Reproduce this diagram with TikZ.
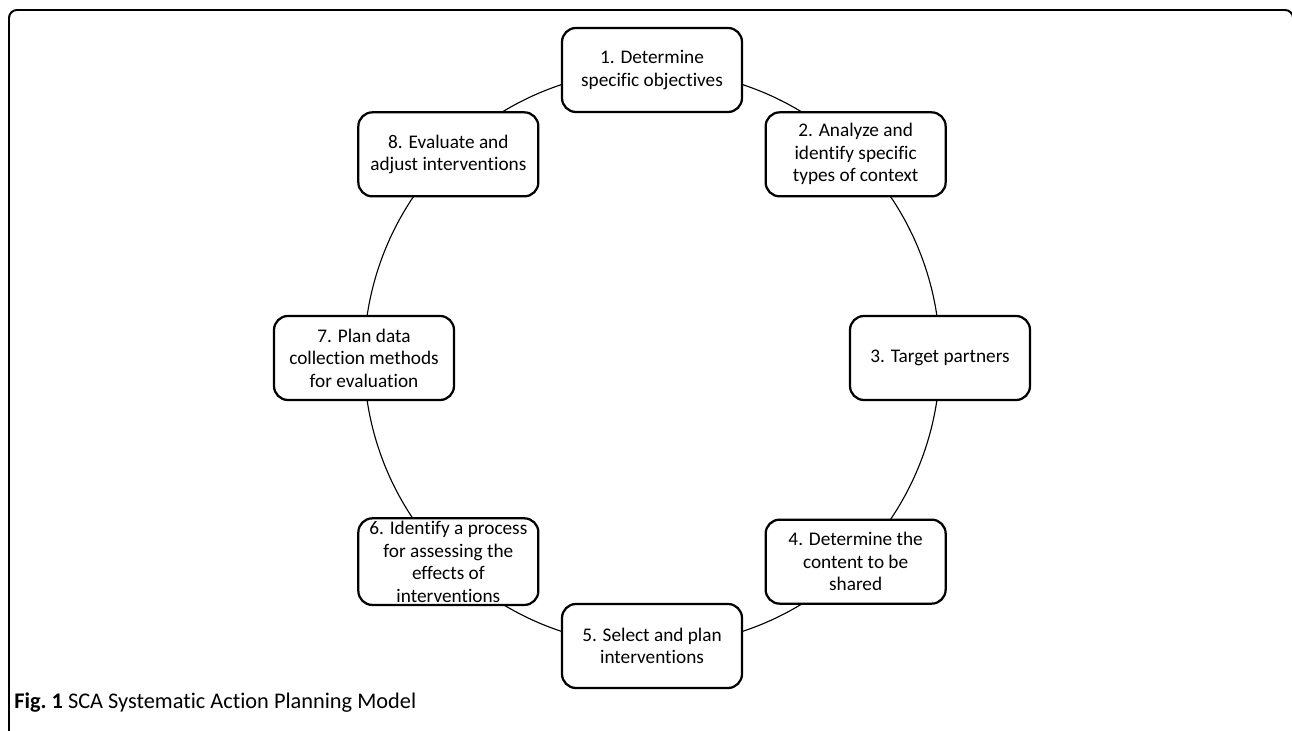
\documentclass[tikz,border=0pt]{standalone}
\usepackage{fontspec}
\setmainfont{Carlito}[Ligatures={NoCommon,NoContextual}, RawFeature={-liga,-clig,-dlig}]
\usetikzlibrary{backgrounds}
\begin{document}
\begin{tikzpicture}[font=\fontsize{13.7}{16}\selectfont,
  stepbox/.style={draw, line width=1.6pt, rounded corners=0.35cm, fill=white,
    minimum width=4.5cm, minimum height=2.1cm, align=center, inner sep=2pt}]
\useasboundingbox (0,0) rectangle (32.3,18.275);
\clip (0,0) rectangle (32.3,18.275);
\draw[line width=1.4pt, rounded corners=0.2cm] (0.225,0) -- (0.225,18.025) -- (32.325,18.025) -- (32.325,0);
\coordinate (c) at (16.3,9.325);
\foreach \i/\t in {1/{1. Determine\\specific objectives},
  2/{2. Analyze and\\identify specific\\types of context},
  3/{3. Target partners},
  4/{4. Determine the\\content to be\\shared},
  5/{5. Select and plan\\interventions},
  6/{6. Identify a process\\for assessing the\\effects of\\interventions},
  7/{7. Plan data\\collection methods\\for evaluation},
  8/{8. Evaluate and\\adjust interventions}}
{
\node[stepbox] (b\i) at ([shift={(c)}]135-45*\i:7.2) {\t};
}
% the cycle, behind the boxes
\begin{scope}[on background layer]
\foreach \i in {1,...,8}
{
\draw[line width=0.8pt] (b\i.center) arc[start angle=135-45*\i, end angle=90-45*\i, radius=7.2];
}
\end{scope}
\node[anchor=base west, inner sep=0pt, font=\fontsize{15.9}{18}\selectfont] (cap) at (0.35,0.55)
  {\textbf{Fig.\ 1} SCA Systematic Action Planning Model};
\end{tikzpicture}
\end{document}
